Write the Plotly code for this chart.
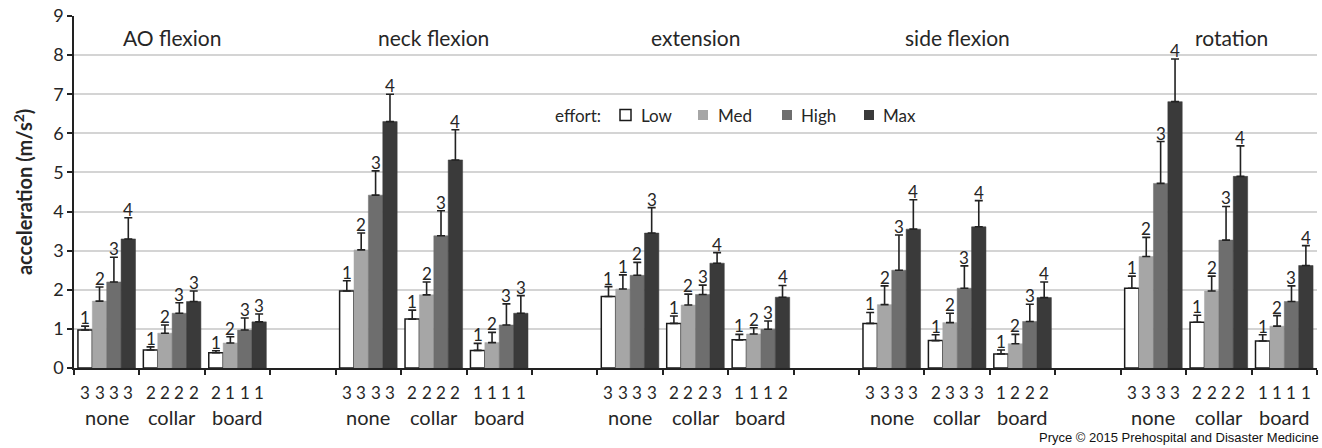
import plotly.graph_objects as go

motions = ["AO flexion", "neck flexion", "extension", "side flexion", "rotation"]
conditions = ["none", "collar", "board"]
efforts = ["Low", "Med", "High", "Max"]
colors = ["#ffffff", "#a6a6a6", "#6e6e6e", "#3a3a3a"]

# mean acceleration per motion -> condition -> effort (Low, Med, High, Max)
low_vals = [0.97, 0.46, 0.39, 1.97, 1.25, 0.45, 1.83, 1.14, 0.72, 1.14, 0.70, 0.36, 2.04, 1.17, 0.69]
med_vals = [1.71, 0.89, 0.64, 3.02, 1.87, 0.65, 2.02, 1.61, 0.87, 1.62, 1.16, 0.62, 2.85, 1.97, 1.07]
high_vals = [2.20, 1.40, 0.97, 4.42, 3.38, 1.10, 2.37, 1.88, 0.99, 2.50, 2.04, 1.19, 4.72, 3.27, 1.70]
max_vals = [3.30, 1.70, 1.18, 6.30, 5.32, 1.40, 3.45, 2.68, 1.81, 3.55, 3.61, 1.80, 6.81, 4.90, 2.62]

low_err = [0.10, 0.08, 0.05, 0.26, 0.23, 0.18, 0.25, 0.19, 0.14, 0.28, 0.15, 0.10, 0.31, 0.18, 0.16]
med_err = [0.36, 0.21, 0.16, 0.43, 0.33, 0.26, 0.36, 0.28, 0.16, 0.48, 0.24, 0.24, 0.49, 0.38, 0.27]
high_err = [0.63, 0.27, 0.31, 0.62, 0.64, 0.54, 0.33, 0.24, 0.21, 0.90, 0.57, 0.44, 1.07, 0.86, 0.40]
max_err = [0.54, 0.27, 0.20, 0.70, 0.77, 0.45, 0.65, 0.27, 0.30, 0.75, 0.67, 0.40, 1.09, 0.78, 0.51]

# significance group labels above bars
low_grp = ["1", "1", "1", "1", "1", "1", "1", "1", "1", "1", "1", "1", "1", "1", "1"]
med_grp = ["2", "2", "2", "2", "2", "2", "1", "2", "2", "2", "2", "2", "2", "2", "2"]
high_grp = ["3", "3", "3", "3", "3", "3", "2", "3", "3", "3", "3", "3", "3", "3", "3"]
max_grp = ["4", "3", "3", "4", "4", "3", "3", "4", "4", "4", "4", "4", "4", "4", "4"]

# sample counts below the axis
low_n = ["3", "2", "2", "3", "2", "1", "3", "2", "1", "3", "2", "1", "3", "2", "1"]
med_n = ["3", "2", "1", "3", "2", "1", "3", "2", "1", "3", "3", "2", "3", "2", "1"]
high_n = ["3", "2", "1", "3", "2", "1", "3", "2", "1", "3", "3", "2", "3", "2", "1"]
max_n = ["3", "2", "1", "3", "2", "1", "3", "3", "2", "3", "3", "2", "3", "2", "1"]

values = [low_vals, med_vals, high_vals, max_vals]
errs = [low_err, med_err, high_err, max_err]
grps = [low_grp, med_grp, high_grp, max_grp]
ns = [low_n, med_n, high_n, max_n]

# category positions: 3 conditions per motion plus a blank slot between motions
xpos = []
cond_labels = []
for m in range(len(motions)):
    for c in range(len(conditions)):
        xpos.append(m * 4 + c)
        cond_labels.append(conditions[c])
n_slots = len(motions) * 4 - 1

bargap = 0.12
bw = (1 - bargap) / 4
offsets = [(-1.5 + k) * bw for k in range(4)]

FONT = "Lato, 'Open Sans', sans-serif"
TXT = "#262626"

fig = go.Figure()
for k in range(4):
    fig.add_trace(go.Bar(
        x=xpos, y=values[k], name=efforts[k],
        marker=dict(color=colors[k],
                    line=dict(color="#1a1a1a" if k == 0 else colors[k], width=1.5 if k == 0 else 0.5)),
        error_y=dict(type="data", array=errs[k], arrayminus=[0] * len(errs[k]), symmetric=False,
                     color="#222222", thickness=1.6, width=4),
        showlegend=False,
    ))

annotations = []
for k in range(4):
    for i, xp in enumerate(xpos):
        annotations.append(dict(x=xp + offsets[k], y=values[k][i] + errs[k][i], xref="x", yref="y",
                                text=grps[k][i], showarrow=False, yanchor="bottom", yshift=-4,
                                font=dict(family=FONT, size=17, color=TXT)))
        annotations.append(dict(x=xp + offsets[k], y=-0.071, xref="x", yref="paper",
                                text=ns[k][i], showarrow=False, yanchor="middle",
                                font=dict(family=FONT, size=17, color=TXT)))
for i, xp in enumerate(xpos):
    annotations.append(dict(x=xp, y=-0.139, xref="x", yref="paper", text=cond_labels[i],
                            showarrow=False, yanchor="middle",
                            font=dict(family=FONT, size=20, color=TXT)))

title_x = [1.0, 5.0, 9.0, 13.0, 17.2]
for m, name in enumerate(motions):
    annotations.append(dict(x=title_x[m], y=8.45, xref="x", yref="y", text=name, showarrow=False,
                            yanchor="middle", font=dict(family=FONT, size=21, color=TXT)))

# y axis title
annotations.append(dict(x=-0.041, y=0.5, xref="paper", yref="paper", text="<b>acceleration (m/s<sup>2</sup>)</b>",
                        textangle=-90, showarrow=False, xanchor="center", yanchor="middle",
                        font=dict(family=FONT, size=20, color=TXT)))

# legend (manual)
W = 1243.0
H = 352.0
def px_x(p):
    return (p - 74) / W
def px_y(p):
    return (368 - p) / H

legend_y = 115
annotations.append(dict(x=px_x(603), y=px_y(legend_y), xref="paper", yref="paper", text="effort:",
                        showarrow=False, xanchor="right", yanchor="middle",
                        font=dict(family=FONT, size=17, color=TXT)))
shapes = []
leg_sq = [(620, 631), (698, 708), (782, 792), (864, 874)]
leg_tx = [639, 716, 799, 881]
for k in range(4):
    x0, x1 = leg_sq[k]
    h = (x1 - x0) / 2
    shapes.append(dict(type="rect", xref="paper", yref="paper",
                       x0=px_x(x0), x1=px_x(x1), y0=px_y(legend_y + h), y1=px_y(legend_y - h),
                       fillcolor=colors[k], line=dict(color="#1a1a1a" if k == 0 else colors[k], width=1.5 if k == 0 else 0)))
    annotations.append(dict(x=px_x(leg_tx[k]), y=px_y(legend_y), xref="paper", yref="paper", text=efforts[k],
                            showarrow=False, xanchor="left", yanchor="middle",
                            font=dict(family=FONT, size=17, color=TXT)))

annotations.append(dict(x=px_x(1321), y=px_y(437), xref="paper", yref="paper",
                        text="Pryce © 2015 Prehospital and Disaster Medicine", showarrow=False,
                        xanchor="right", yanchor="middle",
                        font=dict(family="'Liberation Sans', Arial, sans-serif", size=13, color="#111111")))

fig.update_layout(
    width=1322, height=448,
    margin=dict(l=74, r=5, t=16, b=80),
    paper_bgcolor="white", plot_bgcolor="white",
    barmode="group", bargap=bargap, bargroupgap=0,
    annotations=annotations, shapes=shapes,
    font=dict(family=FONT, color=TXT),
)
fig.update_xaxes(range=[-0.5, n_slots - 0.5], tickvals=[i - 0.5 for i in range(n_slots + 1)],
                 showticklabels=False, ticks="outside", ticklen=5, tickwidth=1.5, tickcolor="#222222",
                 showline=True, linecolor="#222222", linewidth=1.5, showgrid=False, zeroline=False)
fig.update_yaxes(range=[0, 9], dtick=1, ticks="outside", ticklen=5, tickwidth=1.5, tickcolor="#222222",
                 showline=True, linecolor="#222222", linewidth=1.5,
                 showgrid=True, gridcolor="#d4d4d4", gridwidth=1.5, zeroline=False,
                 tickfont=dict(family=FONT, size=18, color=TXT))

fig.write_html("out.html")
